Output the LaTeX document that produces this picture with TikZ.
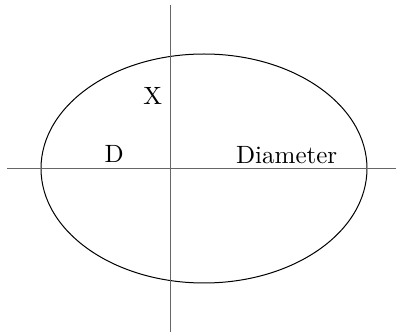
\documentclass[tikz,border=0pt]{standalone}
\usepackage{tikz}

\begin{document}
\begin{tikzpicture}[
  x=0.4pt,y=0.4pt,
  axis/.style={black!60,line width=0.4pt},
  rim/.style={black,line width=0.4pt},
  tag/.style={inner sep=0pt,font=\normalsize}
]
\useasboundingbox (0,0) rectangle (396,334);
\coordinate (c) at (204,165.5);
\draw[rim] (c) ellipse [x radius=65.2pt,y radius=45.8pt];
\coordinate (vtop) at (171,329);
\coordinate (vbot) at (171,2);
\coordinate (hleft) at (7,165.5);
\coordinate (hright) at (396,165.5);
\draw[axis] (vtop) -- (vbot);
\draw[axis] (hleft) -- (hright);
\node[tag] (x) at (152.7,238.3) {X};
\node[tag] (d) at (114.3,179.7) {D};
\node[tag] (diam) at (286.7,179) {Diameter};
\end{tikzpicture}
\end{document}
